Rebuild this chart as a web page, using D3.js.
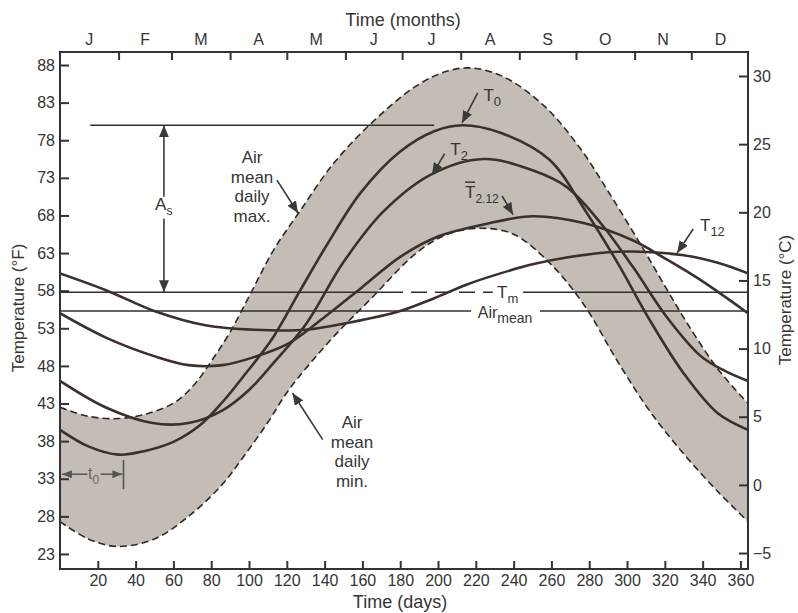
<!DOCTYPE html>
<html>
<head>
<meta charset="utf-8">
<script src="https://cdn.jsdelivr.net/npm/d3@7"></script>
<style>
  body { margin: 0; background: #fff; }
  text { font-family: "Liberation Sans", Arial, sans-serif; fill: #353535; }
</style>
</head>
<body>
<div id="chart"></div>
<script>

    const WIDTH = 798;
    const HEIGHT = 613;
    const LEFT = 60, RIGHT = 748, TOP = 52, BOTTOM = 569;

    // [day, °F]
    const airMax = [[0,42.5],[15,41.3],[31,41],[47,41.7],[61,43.2],[71,45.5],[80,48.6],[90,52.5],[101,57.7],
        [113,63.4],[127,68.6],[145,75],[167,80.8],[189,85.3],[205,87.2],[218,87.6],[235,86.4],[256,82.6],
        [275,77],[291,70.8],[308,63.8],[321,58.2],[332,53.6],[348,47.6],[364,43]];
    const airMin = [[0,27.3],[15,25],[30,24],[50,25],[68,28],[85,32],[97,35.9],[110,40.5],[121,44.8],
        [143,51.4],[164,56.8],[189,63.1],[205,65.5],[222,66.3],[240,65.5],[259,61.7],[277,56.2],[295,48.6],
        [312,42],[330,36.3],[348,31.3],[364,27.3]];
    const t0 = [[0,39.5],[15,37.3],[31,36.2],[45,36.7],[60,37.9],[74,40.1],[86,43.2],[97,46.6],[112,51.5],
        [127,58],[141,64],[159,71],[180,76.5],[198,79.2],[213,80],[233,79],[259,75.4],[277,69],[295,61.7],
        [312,54.1],[330,47],[348,41.7],[364,39.5]];
    const t2 = [[0,46],[24,42.5],[49,40.4],[68,40.4],[86,42.1],[100,44.8],[113,48.4],[130,53.5],[150,61.8],
        [171,68.5],[196,73.4],[224,75.5],[250,74],[268,71.8],[286,67],[303,61.2],[321,54.5],[339,49.3],
        [352,47.3],[364,46]];
    const t212 = [[0,55],[24,51.8],[51,49.2],[68,48.1],[86,48.1],[103,49.2],[121,51],[140,54.5],[160,58.5],
        [180,62.5],[200,65.2],[224,66.8],[250,67.9],[277,67],[303,64.7],[320,62.3],[339,59.4],[364,55]];
    const t12 = [[0,60.3],[24,58.1],[51,55.2],[77,53.4],[103,52.8],[130,52.8],[154,53.8],[180,55.3],
        [198,57],[215,58.8],[233,60.3],[250,61.5],[268,62.4],[290,63.1],[303,63.2],[330,62.7],[348,61.7],[364,60.3]];

    const TM = 57.8;        // °F
    const AIR_MEAN = 55.3;  // °F
    const AS_TOP = 80;      // °F

    const months = ["J","F","M","A","M","J","J","A","S","O","N","D"];
    const monthStarts = [31,59,90,120,151,181,212,243,273,304,334];
    const monthMids = [15.5,45,74.5,105,135.5,166,196.5,227.5,258,288.5,319,349.5];
    const dayTicks = [20,40,60,80,100,120,140,160,180,200,220,240,260,280,300,320,340,360];
    const fTicks = [23,28,33,38,43,48,53,58,63,68,73,78,83,88];
    const cTicks = [-5,0,5,10,15,20,25,30];

    var svg = d3.select("#chart").append("svg")
        .attr("width", WIDTH)
        .attr("height", HEIGHT);

    var x = d3.scaleLinear().domain([0, 364]).range([LEFT, RIGHT]);
    var yF = d3.scaleLinear().domain([21, 89.73]).range([BOTTOM, TOP]);
    var yC = d3.scaleLinear().domain([-6.17, 31.76]).range([BOTTOM, TOP]);

    var defs = svg.append("defs");
    defs.append("clipPath").attr("id", "plot")
        .append("rect").attr("x", LEFT).attr("y", TOP)
        .attr("width", RIGHT - LEFT).attr("height", BOTTOM - TOP);
    defs.append("marker")
        .attr("id", "head")
        .attr("viewBox", "0 0 12 10")
        .attr("refX", 12).attr("refY", 5)
        .attr("markerWidth", 12).attr("markerHeight", 10)
        .attr("markerUnits", "userSpaceOnUse")
        .attr("orient", "auto")
        .append("path").attr("d", "M0,0 L12,5 L0,10 Z").attr("fill", "#3a3a3a");
    defs.append("marker")
        .attr("id", "headSmall")
        .attr("viewBox", "0 0 10 8")
        .attr("refX", 10).attr("refY", 4)
        .attr("markerWidth", 10).attr("markerHeight", 8)
        .attr("markerUnits", "userSpaceOnUse")
        .attr("orient", "auto")
        .append("path").attr("d", "M0,0 L10,4 L0,8 Z").attr("fill", "#555");

    var line = d3.line()
        .x(function (d) { return x(d[0]); })
        .y(function (d) { return yF(d[1]); })
        .curve(d3.curveCatmullRom);

    var plot = svg.append("g").attr("clip-path", "url(#plot)");

    // shaded band between daily max and min
    plot.append("path")
        .attr("d", line(airMax) + line(airMin.slice().reverse()).replace(/^M/, "L") + "Z")
        .attr("fill", "#c4bdb5");

    [airMax, airMin].forEach(function (s) {
        plot.append("path")
            .attr("d", line(s))
            .attr("fill", "none")
            .attr("stroke", "#2e2926")
            .attr("stroke-width", 1.6)
            .attr("stroke-dasharray", "7,4");
    });

    // horizontal reference lines
    function hline(d1, d2, f, dash) {
        plot.append("line")
            .attr("x1", x(d1)).attr("x2", x(d2))
            .attr("y1", yF(f)).attr("y2", yF(f))
            .attr("stroke", "#2f2f2f")
            .attr("stroke-width", 1.6)
            .attr("stroke-dasharray", dash || null);
    }
    hline(16, 198, AS_TOP);
    hline(0, 173, TM);
    hline(173, 229, TM, "16,8");
    hline(245, 364, TM);
    hline(0, 217.5, AIR_MEAN);
    hline(254, 364, AIR_MEAN);

    [t0, t2, t212, t12].forEach(function (s) {
        plot.append("path")
            .attr("d", line(s))
            .attr("fill", "none")
            .attr("stroke", "#3b302b")
            .attr("stroke-width", 2.6);
    });

    // axes (all ticks point inward)
    var font = "Liberation Sans, Arial, sans-serif";
    function styleAxis(g) {
        g.select(".domain").remove();
        g.selectAll(".tick line").attr("stroke", "#333").attr("stroke-width", 2);
        g.selectAll(".tick text").attr("fill", "#353535").attr("font-family", font).attr("font-size", 16);
    }
    svg.append("g").attr("transform", "translate(" + LEFT + ",0)")
        .call(d3.axisLeft(yF).tickValues(fTicks).tickSizeInner(-9).tickSizeOuter(0).tickPadding(5))
        .call(styleAxis);
    svg.append("g").attr("transform", "translate(" + RIGHT + ",0)")
        .call(d3.axisRight(yC).tickValues(cTicks).tickSizeInner(-9).tickSizeOuter(0).tickPadding(5))
        .call(styleAxis);
    svg.append("g").attr("transform", "translate(0," + BOTTOM + ")")
        .call(d3.axisBottom(x).tickValues(dayTicks).tickSizeInner(-8).tickSizeOuter(0).tickPadding(6))
        .call(styleAxis);
    svg.append("g").attr("transform", "translate(0," + TOP + ")")
        .call(d3.axisTop(x).tickValues(monthStarts).tickSizeInner(-8).tickSizeOuter(0).tickFormat(""))
        .call(styleAxis);

    svg.append("rect")
        .attr("x", LEFT).attr("y", TOP)
        .attr("width", RIGHT - LEFT).attr("height", BOTTOM - TOP)
        .attr("fill", "none").attr("stroke", "#333").attr("stroke-width", 2);

    months.forEach(function (m, i) {
        svg.append("text")
            .attr("x", x(monthMids[i]))
            .attr("y", 45)
            .attr("text-anchor", "middle")
            .attr("font-size", 16)
            .text(m);
    });

    svg.append("text").attr("x", 403).attr("y", 26).attr("text-anchor", "middle")
        .attr("font-size", 18).text("Time (months)");
    svg.append("text").attr("x", 400).attr("y", 608).attr("text-anchor", "middle")
        .attr("font-size", 18).text("Time (days)");
    svg.append("text").attr("transform", "translate(24,308) rotate(-90)").attr("text-anchor", "middle")
        .attr("font-size", 17).text("Temperature (°F)");
    svg.append("text").attr("transform", "translate(791,300) rotate(-90)").attr("text-anchor", "middle")
        .attr("font-size", 17).text("Temperature (°C)");

    // annotation arrows [day, °F tail, day, °F tip]
    var arrows = [
        [114.8, 72.7, 126, 68.3],
        [139, 38.2, 123, 44.4],
        [221, 84.3, 212.7, 80.3],
        [203.5, 76.2, 196.8, 73.4],
        [233.9, 70.6, 239.7, 68.1],
        [335, 66.2, 326.5, 63]
    ];
    arrows.forEach(function (a) {
        svg.append("line")
            .attr("x1", x(a[0])).attr("y1", yF(a[1]))
            .attr("x2", x(a[2])).attr("y2", yF(a[3]))
            .attr("stroke", "#3a3a3a").attr("stroke-width", 1.6)
            .attr("marker-end", "url(#head)");
    });

    // A_s double arrow
    svg.append("line").attr("x1", x(55)).attr("x2", x(55))
        .attr("y1", yF(70.5)).attr("y2", yF(AS_TOP))
        .attr("stroke", "#3a3a3a").attr("stroke-width", 1.6).attr("marker-end", "url(#head)");
    svg.append("line").attr("x1", x(55)).attr("x2", x(55))
        .attr("y1", yF(67.6)).attr("y2", yF(TM))
        .attr("stroke", "#3a3a3a").attr("stroke-width", 1.6).attr("marker-end", "url(#head)");

    // t0 double arrow
    svg.append("line").attr("x1", x(14.5)).attr("x2", x(1))
        .attr("y1", yF(33.6)).attr("y2", yF(33.6))
        .attr("stroke", "#555").attr("stroke-width", 1.5).attr("marker-end", "url(#headSmall)");
    svg.append("line").attr("x1", x(21.5)).attr("x2", x(33))
        .attr("y1", yF(33.6)).attr("y2", yF(33.6))
        .attr("stroke", "#555").attr("stroke-width", 1.5).attr("marker-end", "url(#headSmall)");
    svg.append("line").attr("x1", x(33.6)).attr("x2", x(33.6))
        .attr("y1", yF(31.6)).attr("y2", yF(35.5))
        .attr("stroke", "#555").attr("stroke-width", 1.6);

    function subLabel(d, f, main, sub, size, subSize, color) {
        var t = svg.append("text")
            .attr("x", x(d)).attr("y", yF(f))
            .attr("font-size", size)
            .style("fill", color || "#353535");
        t.append("tspan").text(main);
        t.append("tspan").attr("dy", size * 0.3).attr("font-size", subSize).text(sub);
        return t;
    }
    subLabel(224, 83.2, "T", "0", 17, 13);
    subLabel(206.5, 76.0, "T", "2", 17, 13);
    subLabel(214.3, 70.3, "T", "2.12", 17, 12);
    subLabel(338.6, 65.9, "T", "12", 17, 13);
    subLabel(231.2, 57.0, "T", "m", 17, 13);
    subLabel(221, 54.4, "Air", "mean", 16, 14);
    subLabel(50.3, 68.7, "A", "s", 17, 12);
    subLabel(14.8, 33.0, "t", "0", 16, 12, "#666");

    // bar over T for T2.12
    svg.append("line")
        .attr("x1", x(214.3)).attr("x2", x(214.3) + 10)
        .attr("y1", yF(70.3) - 16).attr("y2", yF(70.3) - 16)
        .attr("stroke", "#353535").attr("stroke-width", 1.5);

    function block(d, f, lines) {
        lines.forEach(function (s, i) {
            svg.append("text")
                .attr("x", x(d))
                .attr("y", yF(f) + i * 19.7)
                .attr("text-anchor", "middle")
                .attr("font-size", 17)
                .text(s);
        });
    }
    block(101.6, 75.0, ["Air", "mean", "daily", "max."]);
    block(154.5, 39.75, ["Air", "mean", "daily", "min."]);

</script>
</body>
</html>
